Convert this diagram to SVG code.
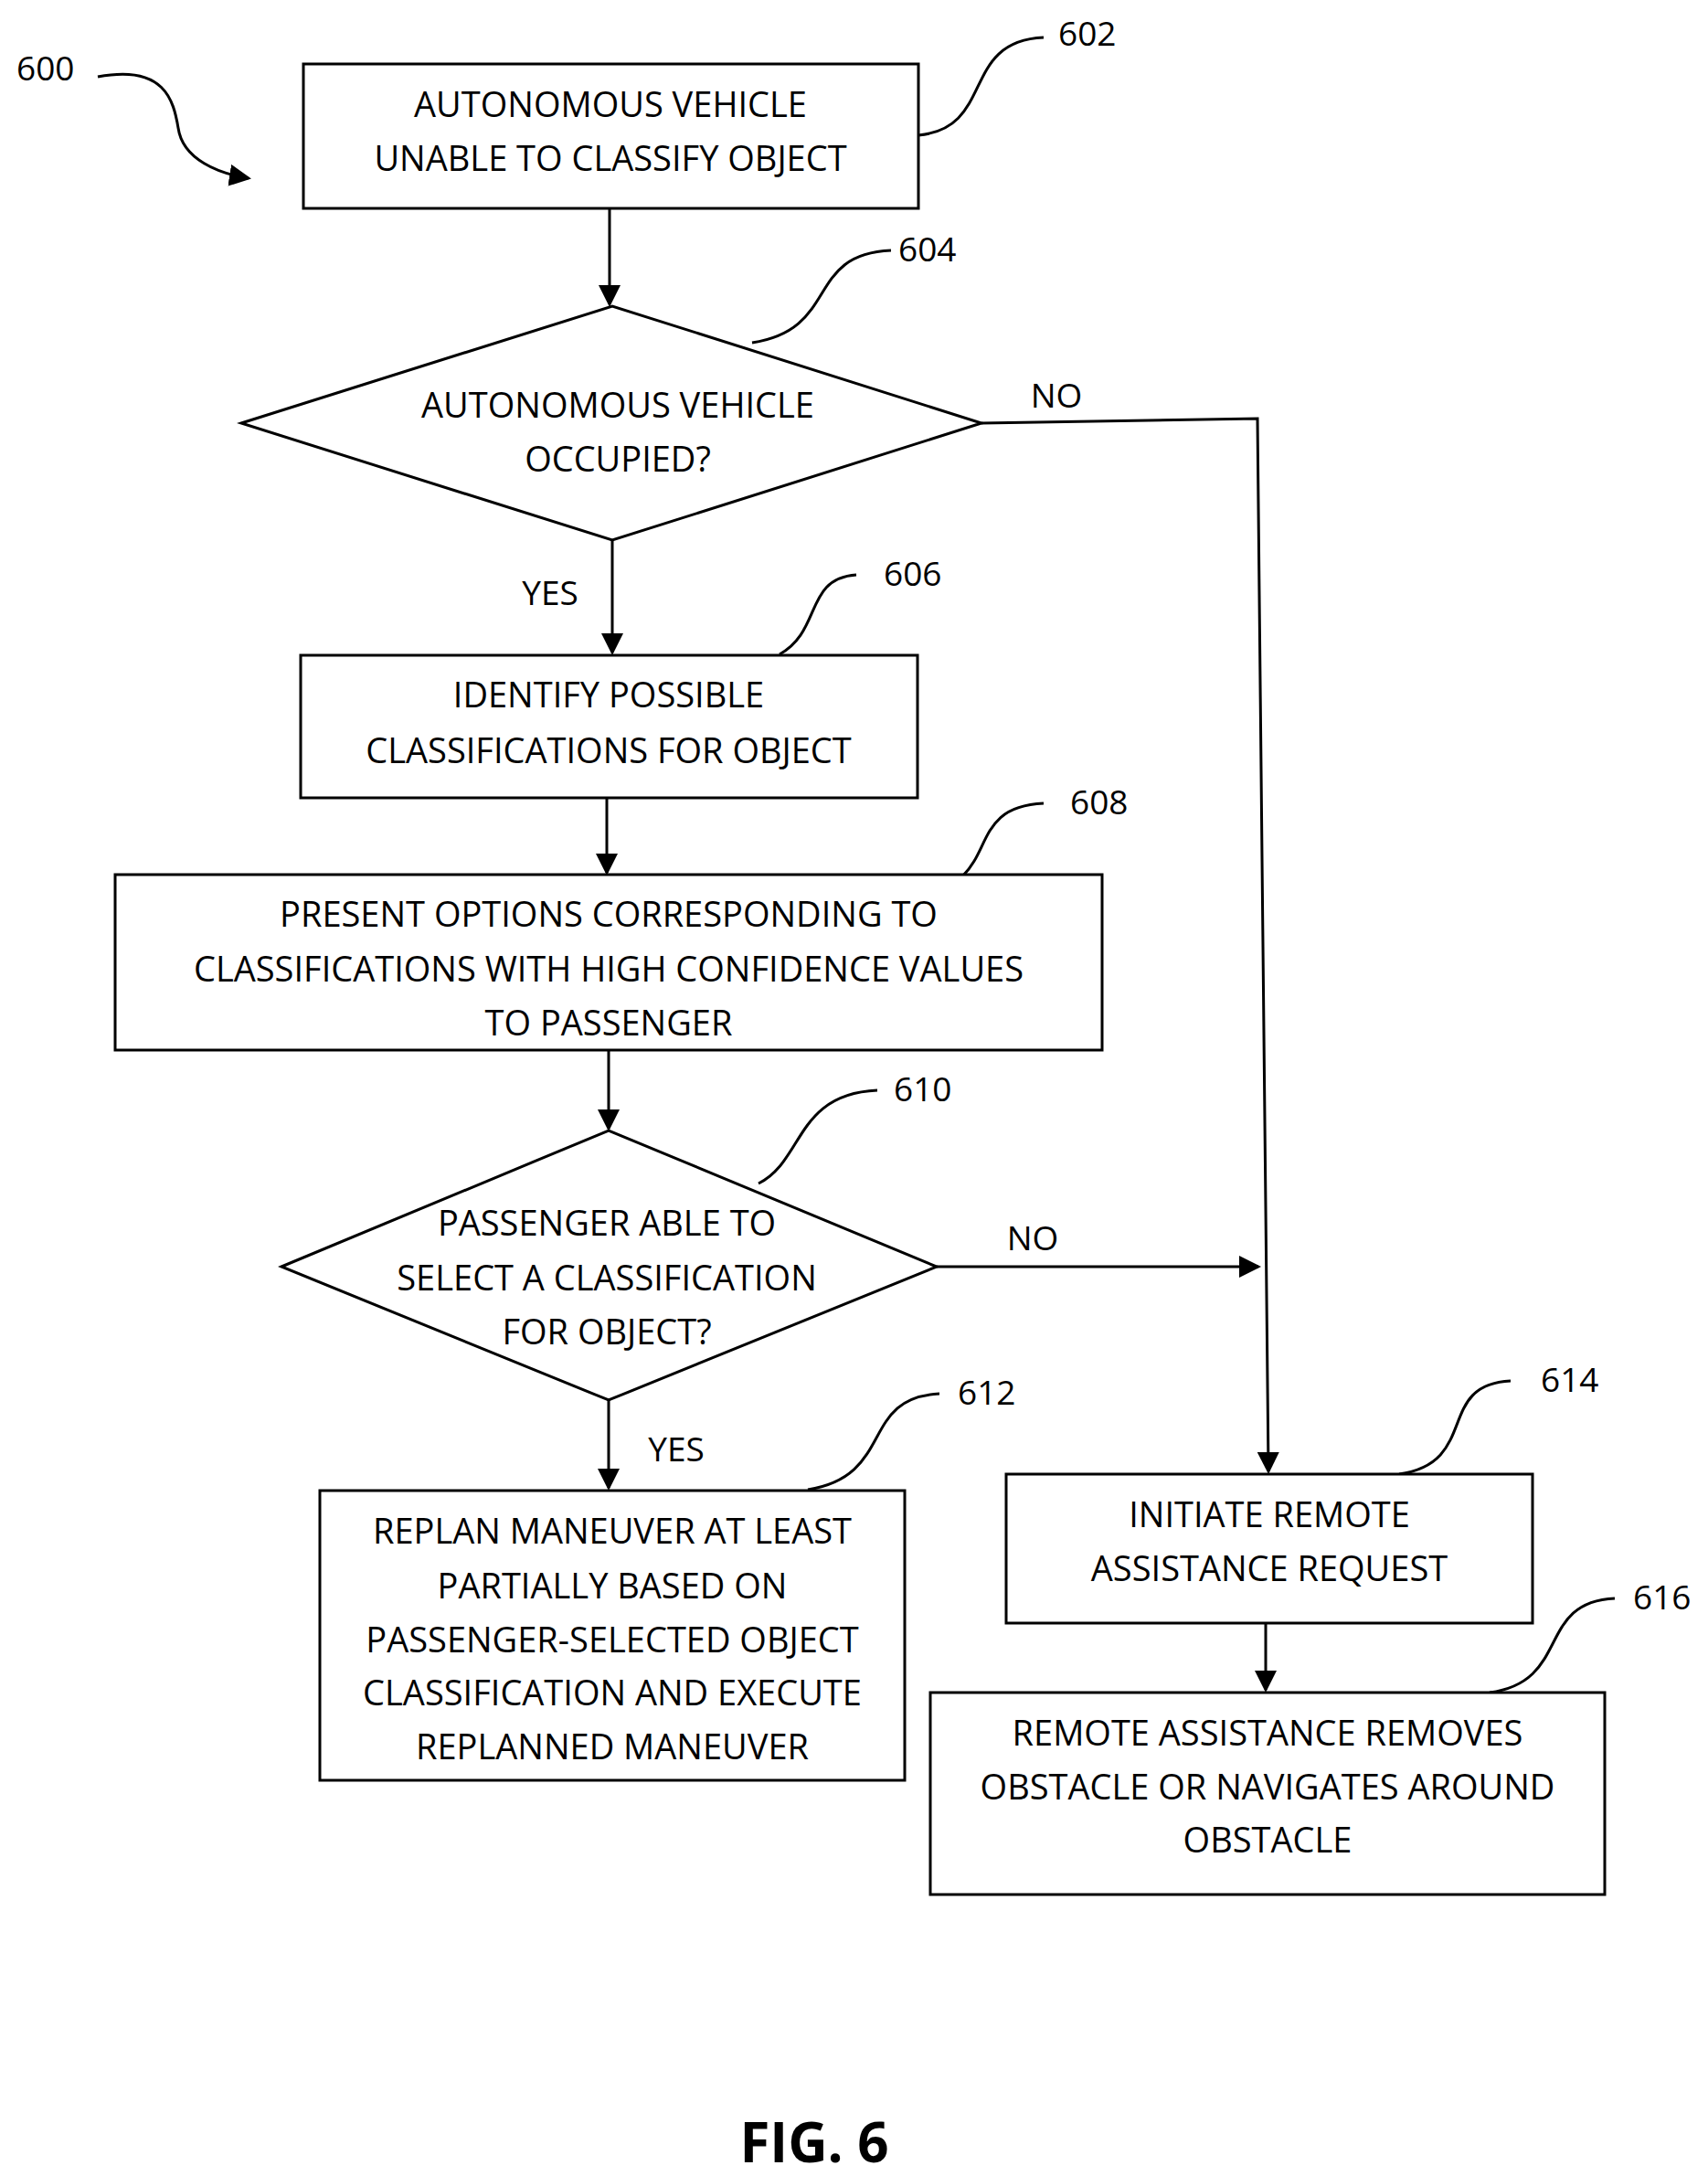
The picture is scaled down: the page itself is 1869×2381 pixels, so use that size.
<svg xmlns="http://www.w3.org/2000/svg" width="1869" height="2381" viewBox="0 0 1869 2381">
<style>
.b{fill:#fff;stroke:#000;stroke-width:3}
.t{font-family:"Open Sans","Liberation Sans",sans-serif;font-size:38px;text-anchor:middle;fill:#000}
.l{font-family:"Open Sans","Liberation Sans",sans-serif;font-size:37px;fill:#000}
.c{fill:none;stroke:#000;stroke-width:3}
</style>
<defs><marker id="a" markerWidth="8" markerHeight="8" refX="7" refY="4" orient="auto" markerUnits="strokeWidth"><path d="M0,0 L8,4 L0,8 Z" fill="#000"/></marker></defs>
<rect width="1869" height="2381" fill="#fff"/>
<g id="connectors">
<path class="c" d="M667,228 V333" marker-end="url(#a)"/>
<path class="c" d="M670,591 V714" marker-end="url(#a)"/>
<path class="c" d="M664,873 V955" marker-end="url(#a)"/>
<path class="c" d="M666,1149 V1235" marker-end="url(#a)"/>
<path class="c" d="M666,1532 V1628" marker-end="url(#a)"/>
<path class="c" d="M1074,463 L1376,458 L1388,1610" marker-end="url(#a)"/>
<path class="c" d="M1025,1386 H1377" marker-end="url(#a)"/>
<path class="c" d="M1385,1776 V1849" marker-end="url(#a)"/>
<path class="c" d="M107,84 C180,70 190,110 195,140 C200,175 240,190 272,195" marker-end="url(#a)"/>
<text class="l" x="1156" y="446" text-anchor="middle">NO</text>
<text class="l" x="602" y="662" text-anchor="middle">YES</text>
<text class="l" x="1130" y="1368" text-anchor="middle">NO</text>
<text class="l" x="740" y="1599" text-anchor="middle">YES</text>
</g>
<g id="refs">
<path class="c" d="M1005,148 C1090,140 1050,45 1142,41"/>
<path class="c" d="M823,375 C920,360 880,278 975,274"/>
<path class="c" d="M853,716 C900,690 880,633 937,629"/>
<path class="c" d="M1005,980 C1100,965 1050,883 1142,879"/>
<path class="c" d="M830,1295 C880,1270 870,1197 960,1193"/>
<path class="c" d="M884,1630 C980,1615 940,1529 1028,1525"/>
<path class="c" d="M1531,1613 C1620,1600 1570,1515 1653,1511"/>
<path class="c" d="M1630,1852 C1720,1840 1680,1753 1767,1749"/>
<text class="l" x="18" y="88">600</text>
<text class="l" x="1158" y="50">602</text>
<text class="l" x="983" y="286">604</text>
<text class="l" x="967" y="641">606</text>
<text class="l" x="1171" y="891">608</text>
<text class="l" x="978" y="1205">610</text>
<text class="l" x="1048" y="1537">612</text>
<text class="l" x="1686" y="1523">614</text>
<text class="l" x="1787" y="1761">616</text>
</g>
<g id="n602"><rect class="b" x="332" y="70" width="673" height="158"/>
<text class="t" x="668" y="128">AUTONOMOUS VEHICLE</text><text class="t" x="668" y="187">UNABLE TO CLASSIFY OBJECT</text></g>
<g id="n604"><polygon class="b" points="264,463 670,335 1074,463 670,591"/>
<text class="t" x="676" y="457">AUTONOMOUS VEHICLE</text><text class="t" x="676" y="516">OCCUPIED?</text></g>
<g id="n606"><rect class="b" x="329" y="717" width="675" height="156"/>
<text class="t" x="666" y="774">IDENTIFY POSSIBLE</text><text class="t" x="666" y="835">CLASSIFICATIONS FOR OBJECT</text></g>
<g id="n608"><rect class="b" x="126" y="957" width="1080" height="192"/>
<text class="t" x="666" y="1014">PRESENT OPTIONS CORRESPONDING TO</text><text class="t" x="666" y="1074">CLASSIFICATIONS WITH HIGH CONFIDENCE VALUES</text><text class="t" x="666" y="1133">TO PASSENGER</text></g>
<g id="n610"><polygon class="b" points="308,1386 666,1237 1025,1386 666,1532"/>
<text class="t" x="664" y="1352">PASSENGER ABLE TO</text><text class="t" x="664" y="1412">SELECT A CLASSIFICATION</text><text class="t" x="664" y="1471">FOR OBJECT?</text></g>
<g id="n612"><rect class="b" x="350" y="1631" width="640" height="317"/>
<text class="t" x="670" y="1689">REPLAN MANEUVER AT LEAST</text><text class="t" x="670" y="1749">PARTIALLY BASED ON</text><text class="t" x="670" y="1808">PASSENGER-SELECTED OBJECT</text><text class="t" x="670" y="1866">CLASSIFICATION AND EXECUTE</text><text class="t" x="670" y="1925">REPLANNED MANEUVER</text></g>
<g id="n614"><rect class="b" x="1101" y="1613" width="576" height="163"/>
<text class="t" x="1389" y="1671">INITIATE REMOTE</text><text class="t" x="1389" y="1730">ASSISTANCE REQUEST</text></g>
<g id="n616"><rect class="b" x="1018" y="1852" width="738" height="221"/>
<text class="t" x="1387" y="1910">REMOTE ASSISTANCE REMOVES</text><text class="t" x="1387" y="1969">OBSTACLE OR NAVIGATES AROUND</text><text class="t" x="1387" y="2027">OBSTACLE</text></g>
<text x="891" y="2366" font-family="Open Sans,Liberation Sans,sans-serif" font-weight="bold" font-size="60" text-anchor="middle">FIG. 6</text>
</svg>
